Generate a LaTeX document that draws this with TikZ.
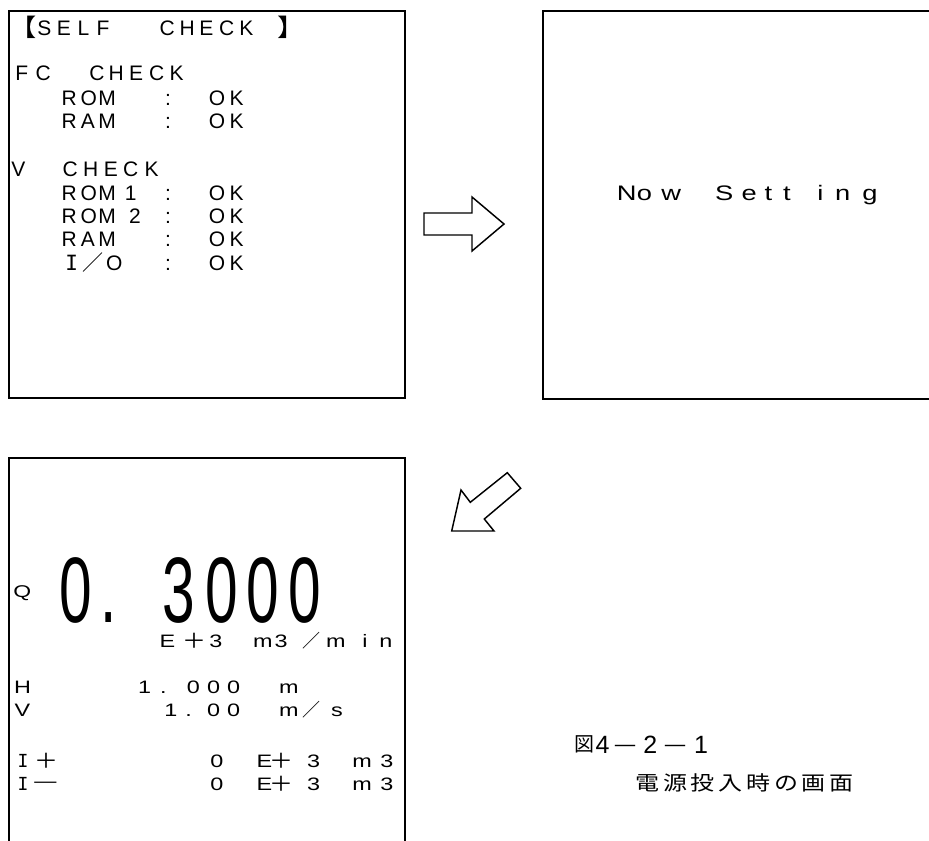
\documentclass[tikz,border=0pt]{standalone}
\usepackage{fontspec}
\usepackage{graphicx}
\setmainfont{Liberation Sans}
\newfontfamily\cjk{Noto Sans CJK JP}
\newfontfamily\cjkwide[FakeStretch=1.2]{Noto Sans CJK JP}
\newfontfamily\bignum[FakeStretch=0.63]{Liberation Sans}
\newfontfamily\widesans[FakeStretch=1.3]{Liberation Sans}
\newfontfamily\monoI{DejaVu Sans Mono}
\newcommand\placechars[4]{\foreach \xx/\cc [count=\kk] in {#4} {\node[#1] (#2-\kk) at (\xx,#3) {\cc};}}
\newcommand\fwplus{\raisebox{-1pt}{\scalebox{1.33}[1.15]{\cjk ＋}}}
\newcommand\fwminus{\raisebox{0.5pt}{\scalebox{1.7}[1]{\cjk －}}}
\begin{document}
\begin{tikzpicture}[x=0.75pt,y=-0.75pt,
  ch/.style={inner sep=0pt, outer sep=0pt, anchor=base},
  tA/.style={ch, font=\fontsize{15.75pt}{18pt}\selectfont},
  tS/.style={ch, font=\fontsize{15.75pt}{18pt}\widesans},
  tB/.style={ch, font=\fontsize{13.5pt}{16pt}\widesans},
  tQ/.style={ch, font=\fontsize{12.75pt}{15pt}\selectfont},
  tBig/.style={ch, text depth=0pt, font=\fontsize{69.75pt}{80pt}\bignum},
  tCapD/.style={ch, font=\fontsize{18.75pt}{22pt}\selectfont},
  tCapJ/.style={ch, font=\fontsize{15pt}{18pt}\cjk},
  tCapW/.style={ch, font=\fontsize{15pt}{18pt}\cjkwide},
  screen/.style={line width=1.6pt},
  blockarrow/.style={line width=1.1pt, line join=miter}]
\useasboundingbox (0,0) rectangle (929,840);
\clip (0,0) rectangle (929,840);
\fill[white] (0,0) rectangle (929,840);

% screens
\draw[screen] (9,11) rectangle (405,398);
\draw[screen] (543,11) rectangle (945,399);
\draw[screen] (9,458) rectangle (405,850);

% block arrows
\draw[blockarrow] (424,213) -- (472,213) -- (472,197) -- (504,224) -- (472,251) -- (472,235) -- (424,235) -- cycle;
\draw[blockarrow] (451.7,531) -- (461,490) -- (470.3,502.3) -- (507.3,472.7) -- (520.7,488.3) -- (484.3,519) -- (494,531) -- cycle;

% ---- screen 1: self check
\node[tA, anchor=base east] (s1lb) at (37,36) {\scalebox{1.3}[1.15]{\cjk 【}};
\placechars{tA}{s1r1}{35}{44.5/S,64/E,83.5/L,103/F,167.3/C,187.2/H,206.3/E,226.7/C,246.3/K}
\node[tA, anchor=base west] (s1rb) at (277,36) {\scalebox{1.3}[1.15]{\cjk 】}};
\placechars{tA}{s1r2}{80}{21.7/F,43.3/C,97/C,116.2/H,136.2/E,156.7/C,176.7/K}
\placechars{tA}{s1r3}{105}{69.2/R,88.8/O,107/M,168/:,217/O,236.7/K}
\placechars{tA}{s1r4}{128.3}{69.2/R,88/A,107/M,168/:,217/O,236.7/K}
\placechars{tA}{s1r5}{176}{18.3/V,70.3/C,90.8/H,110.8/E,130.7/C,151.7/K}
\placechars{tA}{s1r6}{200}{69.2/R,88.8/O,107/M,130.8/1,168/:,217/O,236.7/K}
\placechars{tA}{s1r7}{223.3}{69.2/R,88.8/O,107/M,135/2,168/:,217/O,236.7/K}
\placechars{tA}{s1r8}{246.7}{69.2/R,88/A,107/M,168/:,217/O,236.7/K}
\placechars{tA}{s1r9}{270}{71.7/{\monoI I},92.5/{\cjk ／},114.2/O,168/:,217/O,236.7/K}

% ---- screen 2
\placechars{tS}{s2}{200}{626.7/N,644.5/o,671.2/w,724.2/S,749.2/e,768.3/t,787/t,820.3/i,842.8/n,870/g}

% ---- screen 3
\node[tQ] (q) at (22.3,597) {\scalebox{1.35}[1]{Q}};
\placechars{tBig}{big}{622}{75.5/0,109/.,178.7/3,222.2/0,262.8/0,304.7/0}
\placechars{tB}{unit}{647}{167.5/E,194.2/\fwplus,215.8/3,262.8/m,281.2/3,311.7/{\cjk ／},335.8/m,365/i,385.8/n}
\placechars{tB}{hrow}{693}{22.5/H,144.7/1,163.3/.,193.3/0,213.7/0,233.7/0,288.8/m}
\placechars{tB}{vrow}{716}{22.5/V,171/1,188.7/.,213.7/0,233.7/0,288.8/m,311.2/{\cjk ／},337/s}
\placechars{tB}{iprow}{767}{23/{\monoI I},46.7/\fwplus,217/0,264.5/E,281.7/\fwplus,313.7/3,362/m,387/3}
\placechars{tB}{imrow}{790}{23/{\monoI I},45.8/\fwminus,217/0,264.5/E,281.7/\fwplus,313.7/3,362/m,387/3}

% ---- caption
\node[tCapJ] (fig) at (584.7,751.5) {図};
\placechars{tCapD}{capd}{753}{602.5/4,650.3/2,701/1}
\placechars{tCapJ}{capm}{753}{625/{\scalebox{1.4}[1]{－}},675/{\scalebox{1.4}[1]{－}}}
\placechars{tCapW}{capt}{790}{647.5/電,675.2/源,702.9/投,730.6/入,758.3/時,786/の,813.7/画,841.4/面}
\end{tikzpicture}
\end{document}
